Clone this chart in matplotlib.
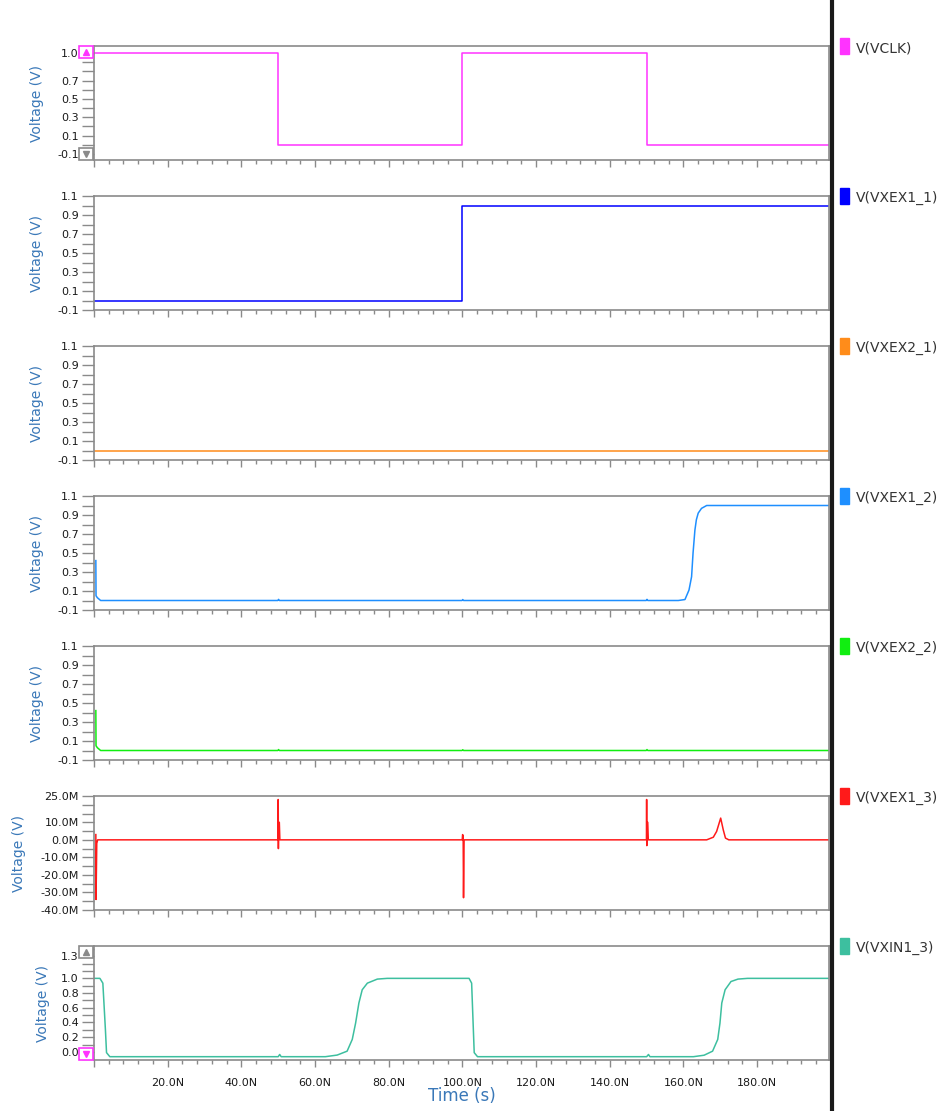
import numpy as np
import matplotlib
matplotlib.use('Agg')
import matplotlib.pyplot as plt
from matplotlib.patches import Rectangle
from matplotlib.lines import Line2D
from matplotlib.ticker import MultipleLocator, FixedLocator, NullFormatter, FuncFormatter

# time in ns, values
names = ['V(VCLK)', 'V(VXEX1_1)', 'V(VXEX2_1)', 'V(VXEX1_2)', 'V(VXEX2_2)', 'V(VXEX1_3)', 'V(VXIN1_3)']
colors = ['#ff33ff', '#0000ff', '#ff8c1a', '#1e8fff', '#11ee11', '#ff1a1a', '#3dbf9f']

vclk_t = [0, 50, 50, 100, 100, 150, 150, 200]
vclk_v = [1, 1, 0, 0, 1, 1, 0, 0]

vxex1_1_t = [0, 100, 100, 200]
vxex1_1_v = [0, 0, 1, 1]

vxex2_1_t = [0, 200]
vxex2_1_v = [0, 0]

vxex1_2_t = [0.5, 0.55, 0.9, 1.8, 49.9, 50.1, 50.3, 99.9, 100.1, 100.3, 149.9, 150.1, 150.3,
             158.6, 160.4, 161.5, 162.2, 162.6, 163.1, 163.5, 164.0, 164.9, 166.3, 200]
vxex1_2_v = [0.42, 0.05, 0.03, 0.0, 0.0, 0.012, 0.0, 0.0, 0.01, 0.0, 0.0, 0.012, 0.0,
             0.0, 0.01, 0.11, 0.25, 0.50, 0.74, 0.85, 0.92, 0.97, 1.0, 1.0]

vxex2_2_t = [0.5, 0.55, 0.9, 1.8, 49.9, 50.1, 50.3, 99.9, 100.1, 100.3, 149.9, 150.1, 150.3, 200]
vxex2_2_v = [0.42, 0.05, 0.03, 0.0, 0.0, 0.01, 0.0, 0.0, 0.008, 0.0, 0.0, 0.01, 0.0, 0.0]

# VXEX1_3 in milli-volts (SPICE "M")
vxex1_3_t = [0.5, 0.55, 0.75, 1.0, 49.95, 50.0, 50.05, 50.12, 50.3, 50.45,
             99.95, 100.05, 100.2, 100.3, 100.45,
             149.95, 150.0, 150.05, 150.12, 150.3, 150.45,
             166.3, 168.1, 169.0, 170.1, 170.8, 171.4, 172.3, 200]
vxex1_3_v = [3, -34, -2, 0, 0, 23, -5, 10, 10, 0,
             0, 3, 2, -33, 0,
             0, 23, -3.3, 10, 10, 0,
             0, 1.5, 4.8, 12.4, 5.7, 1.0, 0, 0]

vxin1_3_t = [0, 1.6, 2.4, 2.7, 3.1, 3.4, 4.3, 50.0, 50.4, 50.8, 62.8, 66.0, 68.7, 70.1, 71.0,
             71.9, 72.8, 74.2, 76.9, 79.6, 101.8, 102.5, 102.8, 103.2, 104.1,
             150.0, 150.5, 150.9, 162.7, 165.6, 167.9, 169.3, 169.9, 170.4, 171.3,
             172.9, 174.8, 177.4, 200]
vxin1_3_v = [1.0, 1.0, 0.935, 0.665, 0.30, -0.01, -0.065, -0.065, -0.035, -0.065, -0.065, -0.043,
             0.01, 0.17, 0.39, 0.665, 0.845, 0.935, 0.99, 1.0, 1.0, 0.935, 0.53, -0.01, -0.065,
             -0.065, -0.035, -0.065, -0.065, -0.045, 0.01, 0.17, 0.39, 0.665, 0.845,
             0.957, 0.99, 1.0, 1.0]

series_t = [vclk_t, vxex1_1_t, vxex2_1_t, vxex1_2_t, vxex2_2_t, vxex1_3_t, vxin1_3_t]
series_v = [vclk_v, vxex1_1_v, vxex2_1_v, vxex1_2_v, vxex2_2_v, vxex1_3_v, vxin1_3_v]

ylims = [(-0.165, 1.077), (-0.1, 1.1), (-0.1, 1.1), (-0.1, 1.1), (-0.1, 1.1), (-40, 25), (-0.11, 1.44)]
volt_labels = [-0.1, 0.1, 0.3, 0.5, 0.7, 0.9, 1.1]
ylabels_list = [[-0.1, 0.1, 0.3, 0.5, 0.7, 1.0], volt_labels, volt_labels, volt_labels, volt_labels,
                [-40, -30, -20, -10, 0, 10, 25], [0.0, 0.2, 0.4, 0.6, 0.8, 1.0, 1.3]]
minor_steps = [0.1, 0.1, 0.1, 0.1, 0.1, 5, 0.1]
ylabel_x = [-0.068, -0.068, -0.068, -0.068, -0.068, -0.092, -0.060]

W, H = 949, 1111
fig = plt.figure(figsize=(W / 100, H / 100), dpi=100)
fig.patch.set_facecolor('white')

left, right = 94, 829
panel_h = 114
frame_col = '#8a8a8a'
label_blue = '#3a78b8'

axes = []
for i in range(7):
    top = 46 + 150 * i
    ax = fig.add_axes([left / W, 1 - (top + panel_h) / H, (right - left) / W, panel_h / H])
    axes.append(ax)
    ax.plot(series_t[i], series_v[i], color=colors[i], lw=1.1)
    ax.set_xlim(0, 199.5)
    ax.set_ylim(*ylims[i])
    for sp in ax.spines.values():
        sp.set_color(frame_col)
        sp.set_linewidth(1.2)

    # y ticks: every minor step, labels only at chosen values
    lo, hi = ylims[i]
    st = minor_steps[i]
    yt = np.arange(np.ceil(lo / st - 1e-6) * st, hi + 1e-6, st)
    ax.yaxis.set_major_locator(FixedLocator(ylabels_list[i]))
    ax.yaxis.set_minor_locator(FixedLocator(yt))
    if i == 5:
        ax.yaxis.set_major_formatter(FuncFormatter(lambda v, p: '%.1fM' % v))
    else:
        ax.yaxis.set_major_formatter(FuncFormatter(lambda v, p: '%.1f' % v))
    ax.tick_params(axis='y', which='both', direction='out', length=9, width=1.0,
                   color=frame_col, pad=2, labelsize=8, labelcolor='#1a1a1a')

    ax.xaxis.set_major_locator(MultipleLocator(20))
    ax.xaxis.set_minor_locator(MultipleLocator(4))
    ax.tick_params(axis='x', which='major', direction='out', length=5, width=1.0,
                   color=frame_col, pad=8, labelsize=8, labelcolor='#1a1a1a')
    ax.tick_params(axis='x', which='minor', direction='out', length=3, width=1.0, color=frame_col)
    if i < 6:
        ax.xaxis.set_major_formatter(NullFormatter())
    else:
        ax.xaxis.set_major_formatter(FuncFormatter(lambda v, p: '' if v == 0 else '%.1fN' % v))

    ax.set_ylabel('Voltage (V)', color=label_blue, fontsize=10)
    ax.yaxis.set_label_coords(ylabel_x[i], 0.5)

    # legend entry on the right
    ax.add_patch(Rectangle((1.015, 0.93), 0.012, 0.14, transform=ax.transAxes,
                           color=colors[i], clip_on=False))
    ax.text(1.037, 0.98, names[i], transform=ax.transAxes, fontsize=10, color='#333333',
            va='center', ha='left')

axes[6].set_xlabel('Time (s)', color=label_blue, fontsize=12, labelpad=-1)


def scroll_button(ax, at_top, edge, fill):
    bw, bh = 14 / 735, 12 / panel_h
    y0 = 1 - bh if at_top else 0
    ax.add_patch(Rectangle((-bw - 0.001, y0), bw, bh, transform=ax.transAxes, facecolor='white',
                           edgecolor=edge, lw=1.2, clip_on=False, zorder=10))
    ax.plot([-bw / 2 - 0.001], [y0 + bh / 2], marker='^' if at_top else 'v', ms=5, color=fill,
            transform=ax.transAxes, clip_on=False, zorder=11)


scroll_button(axes[0], True, '#ff33ff', '#ff33ff')
scroll_button(axes[0], False, '#8a8a8a', '#8a8a8a')
scroll_button(axes[6], True, '#8a8a8a', '#8a8a8a')
scroll_button(axes[6], False, '#ff33ff', '#ff33ff')

# divider between plot and legend area
fig.add_artist(Line2D([832 / W, 832 / W], [0, 1], transform=fig.transFigure, color='#1a1a1a', lw=3))

fig.savefig('out.png', dpi=100, facecolor='white')
